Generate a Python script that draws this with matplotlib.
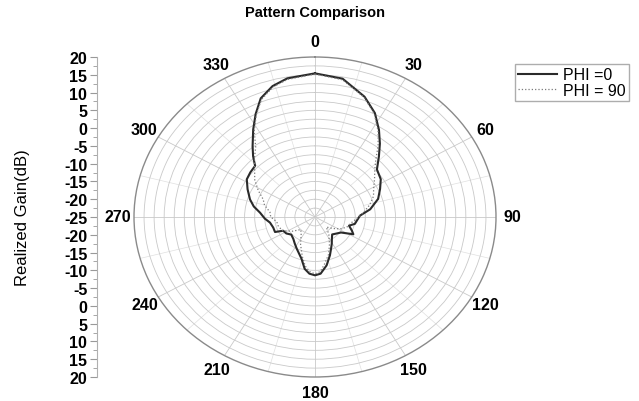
import numpy as np
import matplotlib
matplotlib.use("Agg")
import matplotlib.pyplot as plt
from matplotlib.ticker import MultipleLocator, FixedLocator

plt.rcParams["font.family"] = ["Liberation Sans", "DejaVu Sans"]

# pattern values (theta in degrees, gain in dB)
phi0_theta = [0, 10, 20, 27, 33, 38, 43, 49, 57, 64, 72, 81, 88, 95, 101, 106,
              113, 117, 124, 132, 139, 146, 151, 156, 161, 168, 175, 180, 185,
              190, 196, 207, 214, 221, 230, 237, 244, 247, 254, 262, 268, 275,
              281, 287, 295, 302, 308, 314, 318, 322, 328, 333, 338, 344, 350, 360]
phi0_gain = [15.4, 14.5, 11.0, 7.8, 4.2, 1.2, -1.7, -4.6, -5.5, -7.0, -8.5, -11.1,
             -13.8, -14.5, -14.9, -16.2, -15.0, -14.3, -17.2, -18.0, -18.5, -17.5,
             -16.4, -15.2, -13.6, -11.1, -9.0, -8.6, -9.0, -10.2, -12.8, -15.0,
             -16.0, -16.8, -17.3, -16.5, -16.2, -14.2, -14.2, -13.7, -12.5, -11.3,
             -9.5, -8.1, -6.5, -5.0, -4.6, -4.3, -2.0, 0.2, 4.0, 7.5, 11.0, 13.3,
             14.6, 15.4]

phi90_theta = [0, 10, 20, 27, 33, 38, 43, 48, 54, 62, 68, 76, 84, 92, 100, 110,
               118, 126, 135, 145, 155, 162, 170, 175, 180, 185, 190, 196, 205,
               215, 225, 235, 245, 255, 262, 270, 277, 285, 291, 298, 305, 312,
               318, 323, 328, 333, 338, 344, 350, 360]
phi90_gain = [15.2, 14.2, 10.8, 7.5, 3.8, 0.5, -2.8, -5.0, -6.7, -8.5, -9.3, -11.0,
              -12.9, -14.5, -15.8, -16.6, -17.9, -19.5, -21.0, -19.0, -16.5, -14.0,
              -11.5, -9.6, -9.0, -9.6, -11.0, -13.5, -16.5, -19.0, -20.0, -18.0,
              -16.0, -15.5, -15.4, -14.0, -13.7, -12.0, -11.2, -9.0, -6.7, -4.8,
              -2.5, -0.5, 3.5, 7.2, 10.6, 13.0, 14.3, 15.2]

angle_ticks = list(range(0, 360, 30))
r_min, r_max = -25, 20

W, H = 639, 402
fig = plt.figure(figsize=(W / 100, H / 100), dpi=100)

cx, cy, rx, ry = 315, 218, 181, 160
ax = fig.add_axes([(cx - rx) / W, (H - cy - ry) / H, 2 * rx / W, 2 * ry / H],
                  projection="polar")
ax.set_aspect("auto")
ax.set_theta_zero_location("N")
ax.set_theta_direction(-1)
ax.set_ylim(r_min, r_max)

ax.set_yticks(np.arange(r_min + 2.5, r_max, 2.5))
ax.set_yticklabels([])
ax.set_xticks(np.deg2rad(angle_ticks))
ax.set_xticklabels([str(a) for a in angle_ticks], fontweight="bold", fontsize=11.5)
ax.tick_params(axis="x", pad=1)
ax.grid(True, color="#c9c9c9", lw=0.6)
ax.spines["polar"].set_color("#8a8a8a")
ax.spines["polar"].set_linewidth(1.0)

# faint minor spokes at 15 deg offsets
for a in range(15, 360, 30):
    ax.plot([np.deg2rad(a)] * 2, [-12.5, r_max], color="#e0e0e0", lw=0.5, zorder=0)

ax.plot(np.deg2rad(phi0_theta), phi0_gain, color="#2a2a2a", lw=1.5, label="PHI =0")
ax.plot(np.deg2rad(phi90_theta), phi90_gain, color="#7a7a7a", lw=0.9, ls=":",
        label="PHI = 90")

# linear gain scale on the left
sax = fig.add_axes([97 / W, (H - cy - ry) / H, 0.001, 2 * ry / H])
sax.set_ylim(-(r_max - r_min), r_max - r_min)
for s in ("top", "right", "bottom"):
    sax.spines[s].set_visible(False)
sax.spines["left"].set_color("#b0b0b0")
sax.set_xticks([])
major = np.arange(-(r_max - r_min), r_max - r_min + 1, 5)
sax.yaxis.set_major_locator(FixedLocator(major))
sax.set_yticklabels([f"{r_min + abs(v):g}" for v in major], fontweight="bold",
                    fontsize=11.5)
sax.yaxis.set_minor_locator(MultipleLocator(2.5))
sax.tick_params(axis="y", which="major", length=5, color="#999999", pad=2)
sax.tick_params(axis="y", which="minor", length=3, color="#999999")

fig.text(23 / W, 1 - cy / H, "Realized Gain(dB)", rotation=90, ha="center",
         va="center", fontsize=12)
fig.text(cx / W, 1 - 13 / H, "Pattern Comparison", ha="center", va="center",
         fontsize=10.5, fontweight="bold")

leg = fig.legend(loc="upper left", bbox_to_anchor=(515 / W, 1 - 65 / H),
                 fontsize=11.5, frameon=True, fancybox=False, handlelength=2.4,
                 borderpad=0.2, labelspacing=0.05, handletextpad=0.4,
                 borderaxespad=0)
leg.get_frame().set_edgecolor("#999999")
leg.get_frame().set_linewidth(1.0)

fig.savefig("out.png", dpi=100)
